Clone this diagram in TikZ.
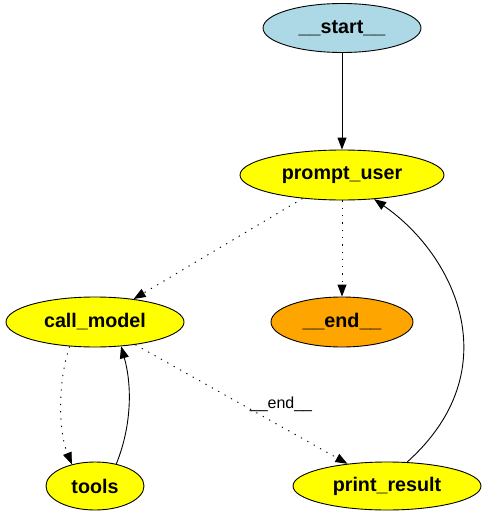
\documentclass[tikz,border=0pt]{standalone}
\usepackage{fontspec}
\setmainfont{Liberation Sans}
\usetikzlibrary{shapes.geometric,arrows.meta}
\definecolor{startblue}{HTML}{ADD8E6}
\definecolor{nodeyellow}{HTML}{FFFF00}
\definecolor{endorange}{HTML}{FFA500}
\begin{document}
\begin{tikzpicture}[x=1pt,y=-1pt,
  gnode/.style={ellipse,draw=black,line width=0.9pt,inner sep=0pt,
    font=\fontsize{19.7}{22}\selectfont\bfseries},
  edge/.style={line width=0.9pt,-{Triangle[length=12pt,width=9pt]}},
  dotedge/.style={edge,dash pattern=on 1.3pt off 6pt},
  elabel/.style={font=\fontsize{16}{18}\selectfont,inner sep=0pt}]
\useasboundingbox[fill=white] (0,0) rectangle (486,516);
\node[gnode,fill=startblue,minimum width=158pt,minimum height=49pt] (start) at (342,28) {\_\_start\_\_};
\node[gnode,fill=nodeyellow,minimum width=204pt,minimum height=50pt] (prompt) at (342,175) {prompt\_user};
\node[gnode,fill=nodeyellow,minimum width=178pt,minimum height=50pt] (call) at (95,322) {call\_model};
\node[gnode,fill=endorange,minimum width=142pt,minimum height=50pt] (end) at (342,322) {\_\_end\_\_};
\node[gnode,fill=nodeyellow,minimum width=98pt,minimum height=48pt] (tools) at (95,486) {tools};
\node[gnode,fill=nodeyellow,minimum width=188pt,minimum height=48pt] (print) at (387,486) {print\_result};
\node[elabel] (lbl) at (281,404) {\_\_end\_\_};
\draw[edge] (start) -- (prompt);
\draw[dotedge] (prompt) -- (call);
\draw[dotedge] (prompt) -- (end);
\draw[dotedge] (call.-136) .. controls (58,380) and (58,430) .. (tools.137);
\draw[edge] (tools.46) .. controls (132,425) and (132,385) .. (call.-43);
\draw[dotedge] (call) -- (print);
\draw[edge] (print.50) .. controls (510,370) and (455,255) .. (prompt.-37);
\end{tikzpicture}
\end{document}
